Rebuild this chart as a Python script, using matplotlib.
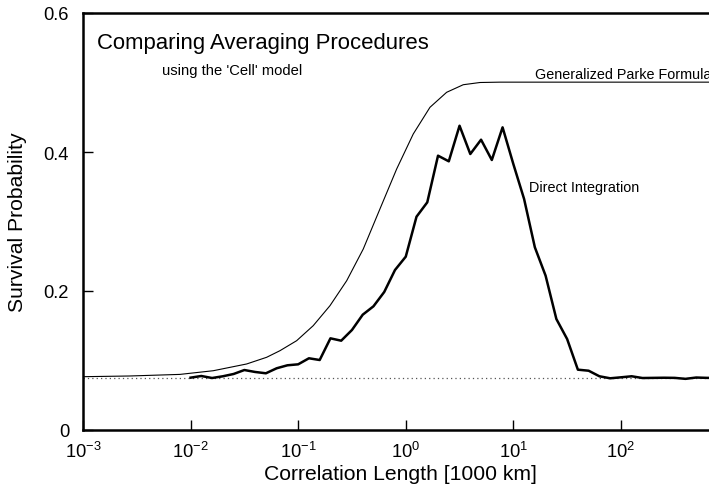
import numpy as np
import matplotlib
matplotlib.use("Agg")
import matplotlib.pyplot as plt

plt.rcParams['font.family'] = ['Liberation Sans', 'DejaVu Sans']
plt.rcParams['mathtext.fontset'] = 'custom'
plt.rcParams['mathtext.rm'] = 'Liberation Sans'
plt.rcParams['mathtext.default'] = 'regular'
plt.rcParams['axes.unicode_minus'] = False

# generalized Parke formula
parke_x = [0.001, 0.0027, 0.00796, 0.01626, 0.0332, 0.0509, 0.0677, 0.0968, 0.138,
           0.1976, 0.2825, 0.4027, 0.5754, 0.823, 1.174, 1.679, 2.399, 3.423, 4.90,
           7.50, 1000.0]
parke_y = [0.0767, 0.0777, 0.0800, 0.0853, 0.0950, 0.1046, 0.1141, 0.1285, 0.1501,
           0.1789, 0.2148, 0.2604, 0.3180, 0.3755, 0.4259, 0.4643, 0.4859, 0.4968, 0.5000,
           0.5005, 0.5005]

# direct integration, sampled every 0.1 decade from 10^-2 to 10^3
direct_x = 10.0 ** (np.arange(51) / 10.0 - 2.0)
direct_y = [0.0753, 0.0777, 0.0748, 0.0773, 0.0806, 0.0863, 0.0835, 0.0816, 0.0888, 0.0931,
            0.0945, 0.1032, 0.1007, 0.1319, 0.1285, 0.1439, 0.1659, 0.1780, 0.1986, 0.2302,
            0.2494, 0.3069, 0.3276, 0.3947, 0.3866, 0.4378, 0.3971, 0.4177, 0.3885, 0.4355,
            0.3827, 0.3324, 0.2629, 0.2220, 0.1597, 0.1309, 0.0868, 0.0853, 0.0773, 0.0744,
            0.0758, 0.0773, 0.0748, 0.0750, 0.0752, 0.0750, 0.0736, 0.0755, 0.0750, 0.0750, 0.0750]

baseline = 0.0748

fig = plt.figure(figsize=(7.09, 4.89), dpi=100)
# axes run a bit past the right edge of the picture, like the original
ax = fig.add_axes([83/709, 58/489, 645.5/709, 417/489])

ax.axhline(baseline, color='#555555', lw=0.9, ls=(0, (1, 2.5)))
ax.plot(parke_x, parke_y, color='black', lw=0.8)
ax.plot(direct_x, direct_y, color='black', lw=1.8)

ax.set_xscale('log')
ax.set_xlim(1e-3, 1e3)
ax.set_ylim(0, 0.6)
ax.set_xticks([1e-3, 1e-2, 1e-1, 1e0, 1e1, 1e2])
ax.minorticks_off()
ax.set_yticks([0, 0.2, 0.4, 0.6])
ax.set_yticklabels(['0', '0.2', '0.4', '0.6'])
ax.tick_params(direction='in', length=7, width=1, labelsize=13.2)
ax.tick_params(axis='x', pad=8)
ax.tick_params(axis='y', pad=10)
for s in ['left', 'bottom', 'top']:
    ax.spines[s].set_linewidth(1.8)
ax.spines['right'].set_visible(False)

ax.text(0.00135, 0.558, 'Comparing Averaging Procedures', fontsize=15.9, va='center')
ax.text(0.00542, 0.518, "using the 'Cell' model", fontsize=10.6, va='center')
ax.text(15.9, 0.512, 'Generalized Parke Formula', fontsize=10.4, va='center')
ax.text(13.96, 0.350, 'Direct Integration', fontsize=10.4, va='center')

fig.text(18/709, 1 - 222/489, 'Survival Probability', rotation=90,
         fontsize=15.2, ha='center', va='center')
fig.text(400/709, 1 - 475/489, 'Correlation Length [1000 km]',
         fontsize=15.2, ha='center', va='center')

fig.savefig('out.png', dpi=100)
